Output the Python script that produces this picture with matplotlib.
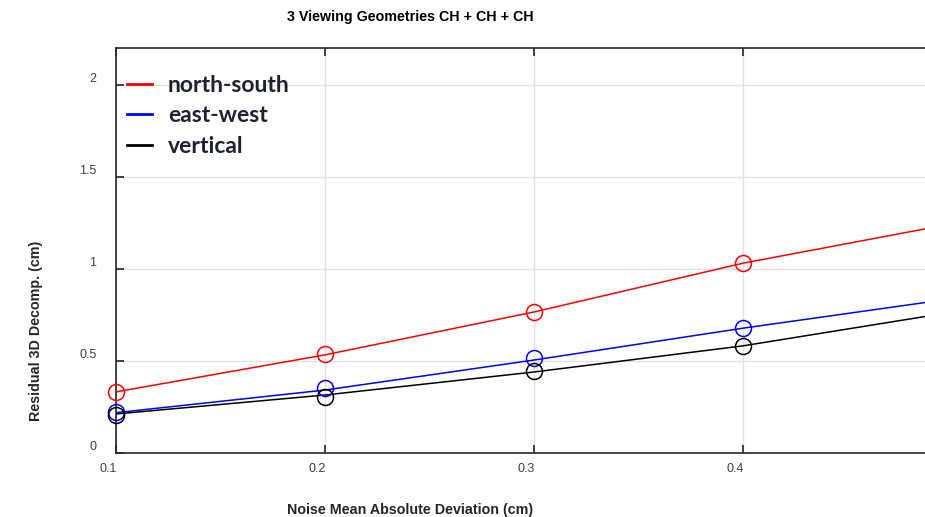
import matplotlib
matplotlib.use('Agg')
import matplotlib.pyplot as plt
import matplotlib.transforms as mtransforms

# noise levels (cm) where the test was run
noise = [0.1, 0.2, 0.3, 0.4]
# residual values at each noise level (circles)
ns_pts = [0.332, 0.538, 0.768, 1.031]
ew_pts = [0.224, 0.352, 0.515, 0.678]
vert_pts = [0.207, 0.306, 0.447, 0.582]

# trend lines, run out to 0.5
line_x = [0.1, 0.2, 0.3, 0.4, 0.5]
ns_line = [0.332, 0.533, 0.766, 1.031, 1.245]
ew_line = [0.219, 0.342, 0.505, 0.678, 0.838]
vert_line = [0.212, 0.315, 0.440, 0.582, 0.765]

labels = ['north-south', 'east-west', 'vertical']
colors = ['red', 'blue', 'black']

xticks = [0.1, 0.2, 0.3, 0.4]
xticklabels = ['0.1', '0.2', '0.3', '0.4']
yticks = [0, 0.5, 1, 1.5, 2]
yticklabels = ['0', '0.5', '1', '1.5', '2']

plt.rcParams['font.family'] = ['Liberation Sans', 'DejaVu Sans']

fig = plt.figure(figsize=(9.25, 5.17), dpi=100)
ax = fig.add_axes([116 / 925, 64 / 517, 836 / 925, 405 / 517])

lines = []
for lx, ly, px, py, c in zip([line_x] * 3, [ns_line, ew_line, vert_line],
                             [noise] * 3, [ns_pts, ew_pts, vert_pts], colors):
    l, = ax.plot(lx, ly, color=c, lw=1.1, zorder=3)
    ax.plot(px, py, 'o', mfc='none', mec=c, ms=11.5, mew=1.1, zorder=4, clip_on=False)
    lines.append(l)

ax.set_xlim(0.1, 0.5)
ax.set_ylim(0, 2.2)
ax.set_xticks(xticks)
ax.set_xticklabels(xticklabels)
ax.set_yticks(yticks)
ax.set_yticklabels(yticklabels)
ax.grid(True, color='#e2e2e2', lw=1)
ax.set_axisbelow(True)
ax.tick_params(direction='in', length=6, width=1.2, colors='#262626',
               labelcolor='#404040', labelsize=9, top=True, right=True)
ax.tick_params(axis='x', pad=7)
ax.tick_params(axis='y', pad=14)
for s in ax.spines.values():
    s.set_color('#262626')
    s.set_linewidth(1.2)

# tick labels sit a little off their ticks in the original
off_x = mtransforms.ScaledTranslation(-8 / 100, 0, fig.dpi_scale_trans)
for lab in ax.get_xticklabels():
    lab.set_transform(lab.get_transform() + off_x)
off_y = mtransforms.ScaledTranslation(0, 7 / 100, fig.dpi_scale_trans)
for lab in ax.get_yticklabels():
    lab.set_transform(lab.get_transform() + off_y)

fig.text(410 / 925, 1 - 17 / 517, '3 Viewing Geometries CH + CH + CH',
         ha='center', va='center', fontsize=10.3, fontweight='bold')
fig.text(410 / 925, 1 - 510 / 517, 'Noise Mean Absolute Deviation (cm)',
         ha='center', va='center', fontsize=10.3, fontweight='bold', color='#262626')
fig.text(36 / 925, 1 - 331 / 517, 'Residual 3D Decomp. (cm)', rotation=90,
         ha='center', va='center', fontsize=10.3, fontweight='bold', color='#262626')

leg = ax.legend(lines, labels, loc='upper left', frameon=False,
                bbox_to_anchor=(127 / 925, 1 - 75 / 517), bbox_transform=fig.transFigure,
                borderaxespad=0, borderpad=0, handlelength=1.09, handletextpad=0.7,
                labelspacing=0.41, prop={'family': 'Lato', 'weight': 'bold', 'size': 16.5})
for t in leg.get_texts():
    t.set_color('#1c2230')
for h in leg.legend_handles:
    h.set_linewidth(2)

fig.savefig('out.png', dpi=100)
